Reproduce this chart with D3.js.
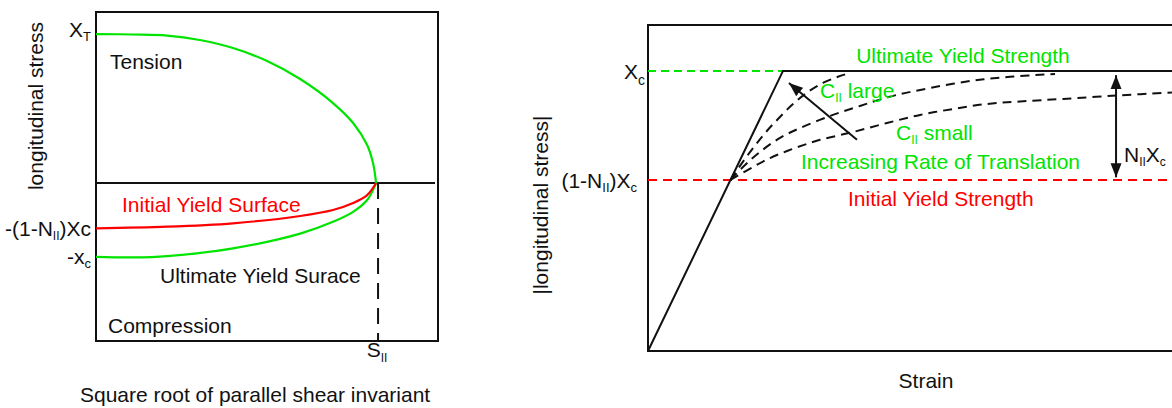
<!DOCTYPE html>
<html><head><meta charset="utf-8">
<script src="https://cdn.jsdelivr.net/npm/d3@7"></script>
<style>
body{margin:0;background:#fff}
svg{display:block}
text{font-family:"Liberation Sans",Arial,Helvetica,sans-serif;font-size:21px;fill:#111}
</style>
</head><body>
<svg id="chart" width="1172" height="408"></svg>
<script>
// ---------- LEFT PANEL DATA (shear invariant vs longitudinal stress) ----------
const leftShearRange = [0, 1.221];
const leftStressRange = [-1.06, 1.148];
const tensionShear  = [0, 0.132, 0.254, 0.371, 0.489, 0.611, 0.729, 0.846, 0.918, 0.968, 0.989, 1.0];
const tensionStress = [1.0, 0.997, 0.990, 0.960, 0.906, 0.819, 0.698, 0.537, 0.403, 0.255, 0.134, 0.0];
const initialShear  = [0, 0.254, 0.489, 0.729, 0.846, 0.918, 0.968, 1.0];
const initialStress = [-0.304, -0.293, -0.270, -0.221, -0.181, -0.134, -0.081, 0.0];
const ultimateShear  = [0, 0.132, 0.254, 0.489, 0.729, 0.846, 0.918, 0.968, 1.0];
const ultimateStress = [-0.495, -0.499, -0.490, -0.438, -0.339, -0.260, -0.193, -0.114, 0.0];
const leftTickValues = [1, -0.304, -0.495];
const leftTickLabels = ["X_{T}", "-(1-N_{II})Xc", "-x_{c}"];
const sII = [1.007];
const sIILabel = "S_{II}";

// ---------- RIGHT PANEL DATA (strain vs |longitudinal stress|) ----------
const strainRange = [0, 3.9];
const stressRange = [0, 1.164];
const elasticStrain = [0, 1];
const elasticStress = [0, 1];
const plateauStrain = [1, 3.9];
const initialYield = [0.611];
const ultimateYield = [1];
const rightTickValues = [1, 0.611];
const rightTickLabels = ["X_{c}", "(1-N_{II})X_{c}"];
const curveAStrain = [0.611, 0.696, 0.785, 0.874, 0.970, 1.074, 1.185, 1.296, 1.407, 1.496];
const curveAStress = [0.611, 0.671, 0.729, 0.782, 0.832, 0.882, 0.925, 0.957, 0.979, 0.993];
const curveBStrain = [0.611, 0.719, 0.830, 0.978, 1.126, 1.348, 1.570, 1.815, 2.089, 2.385, 2.681, 3.015];
const curveBStress = [0.611, 0.664, 0.711, 0.761, 0.796, 0.839, 0.875, 0.911, 0.939, 0.964, 0.979, 0.989];
const curveCStrain = [0.611, 0.778, 0.904, 1.030, 1.156, 1.274, 1.519, 1.770, 2.015, 2.259, 2.511, 2.756, 3.074, 3.496, 3.881];
const curveCStress = [0.611, 0.657, 0.689, 0.714, 0.736, 0.754, 0.782, 0.814, 0.843, 0.864, 0.882, 0.891, 0.900, 0.913, 0.923];
const rateArrowStrain = [1.548, 1.044];
const rateArrowStress = [0.754, 0.957];
const nArrowStrain = [3.467, 3.467];
const nArrowStress = [0.62, 0.985];

const GREEN = "#00e400", RED = "#ff0000", BLACK = "#111";
const svg = d3.select("#chart");

function rich(g, str, subSize, subDy) {
  const t = g.append("text");
  const parts = str.split(/(_\{[^}]*\})/).filter(s => s.length);
  let inSub = false;
  parts.forEach(p => {
    if (p.startsWith("_{")) {
      t.append("tspan").attr("font-size", subSize).attr("dy", subDy).text(p.slice(2, -1));
      inSub = true;
    } else {
      const ts = t.append("tspan").text(p);
      if (inSub) { ts.attr("dy", -subDy); inSub = false; }
    }
  });
  return t;
}

const defs = svg.append("defs");
defs.append("marker").attr("id", "head")
  .attr("markerUnits", "userSpaceOnUse")
  .attr("viewBox", "0 0 14 12").attr("markerWidth", 14).attr("markerHeight", 12)
  .attr("refX", 14).attr("refY", 6).attr("orient", "auto-start-reverse")
  .append("path").attr("d", "M0,0.5 L14,6 L0,11.5 Z").attr("fill", BLACK);

// ================= LEFT PANEL =================
const Lx = d3.scaleLinear().domain(leftShearRange).range([96, 438]);
const Ly = d3.scaleLinear().domain(leftStressRange).range([341, 12]);
const L = svg.append("g");

L.append("rect").attr("x", Lx(leftShearRange[0])).attr("y", Ly(leftStressRange[1]))
  .attr("width", Lx(leftShearRange[1]) - Lx(leftShearRange[0]))
  .attr("height", Ly(leftStressRange[0]) - Ly(leftStressRange[1]))
  .attr("fill", "none").attr("stroke", BLACK).attr("stroke-width", 2);

// zero stress line
L.append("line").attr("x1", Lx(0)).attr("x2", Lx(leftShearRange[1]) - 3)
  .attr("y1", Ly(0)).attr("y2", Ly(0)).attr("stroke", BLACK).attr("stroke-width", 2);

// S_II dashed line
L.append("line").attr("x1", Lx(sII[0])).attr("x2", Lx(sII[0]))
  .attr("y1", Ly(0)).attr("y2", Ly(leftStressRange[0]))
  .attr("stroke", BLACK).attr("stroke-width", 2).attr("stroke-dasharray", "16,9");

const lline = d3.line().x(d => Lx(d[0])).y(d => Ly(d[1])).curve(d3.curveCatmullRom.alpha(0.5));
L.append("path").attr("d", lline(d3.zip(tensionShear, tensionStress)))
  .attr("fill", "none").attr("stroke", GREEN).attr("stroke-width", 2.2);
L.append("path").attr("d", lline(d3.zip(ultimateShear, ultimateStress)))
  .attr("fill", "none").attr("stroke", GREEN).attr("stroke-width", 2.2);
L.append("path").attr("d", lline(d3.zip(initialShear, initialStress)))
  .attr("fill", "none").attr("stroke", RED).attr("stroke-width", 2.2);

// left tick labels
leftTickValues.forEach((v, i) => {
  const t = rich(L, leftTickLabels[i], i === 1 ? 12 : 13, 4);
  t.attr("x", 91).attr("y", Ly(v) + (i === 0 ? 3 : 7.5)).attr("text-anchor", "end");
});
rich(L, sIILabel, 12, 5).attr("x", Lx(sII[0]) - 1).attr("y", 357).attr("text-anchor", "middle");

L.append("text").attr("x", 110).attr("y", 69).text("Tension");
L.append("text").attr("x", 122).attr("y", 212).attr("fill", RED).style("fill", RED).text("Initial Yield Surface");
L.append("text").attr("x", 160).attr("y", 283).text("Ultimate Yield Surace");
L.append("text").attr("x", 108).attr("y", 333).text("Compression");
L.append("text").attr("x", 80).attr("y", 402).text("Square root of parallel shear invariant");
L.append("text").attr("transform", "translate(43,106) rotate(-90)")
  .attr("text-anchor", "middle").text("longitudinal stress");

// ================= RIGHT PANEL =================
const Rx = d3.scaleLinear().domain(strainRange).range([648, 648 + 3.9 * 135]);
const Ry = d3.scaleLinear().domain(stressRange).range([351, 25]);
const R = svg.append("g");

R.append("rect").attr("x", Rx(strainRange[0])).attr("y", Ry(stressRange[1]))
  .attr("width", Rx(strainRange[1]) - Rx(strainRange[0]))
  .attr("height", Ry(stressRange[0]) - Ry(stressRange[1]))
  .attr("fill", "none").attr("stroke", BLACK).attr("stroke-width", 2);

// initial yield (red dashed)
R.append("line").attr("x1", Rx(strainRange[0])).attr("x2", Rx(strainRange[1]))
  .attr("y1", Ry(initialYield[0])).attr("y2", Ry(initialYield[0]))
  .attr("stroke", RED).attr("stroke-width", 2).attr("stroke-dasharray", "9,6");
// ultimate yield (green dashed up to elastic line)
R.append("line").attr("x1", Rx(strainRange[0])).attr("x2", Rx(elasticStrain[1]))
  .attr("y1", Ry(ultimateYield[0])).attr("y2", Ry(ultimateYield[0]))
  .attr("stroke", GREEN).attr("stroke-width", 2).attr("stroke-dasharray", "8,5");

const rline = d3.line().x(d => Rx(d[0])).y(d => Ry(d[1]));
const rcurve = d3.line().x(d => Rx(d[0])).y(d => Ry(d[1])).curve(d3.curveCatmullRom.alpha(0.5));

// elastic + plateau
R.append("path").attr("d", rline(d3.zip(elasticStrain, elasticStress).concat(plateauStrain.map(s => [s, ultimateYield[0]]))))
  .attr("fill", "none").attr("stroke", BLACK).attr("stroke-width", 2).attr("stroke-linejoin", "miter");

[[curveAStrain, curveAStress], [curveBStrain, curveBStress], [curveCStrain, curveCStress]].forEach(([xs, ys]) => {
  R.append("path").attr("d", rcurve(d3.zip(xs, ys)))
    .attr("fill", "none").attr("stroke", BLACK).attr("stroke-width", 2).attr("stroke-dasharray", "9,6");
});

// arrows
R.append("path").attr("d", rline(d3.zip(rateArrowStrain, rateArrowStress)))
  .attr("stroke", BLACK).attr("stroke-width", 2).attr("marker-end", "url(#head)");
R.append("path").attr("d", rline(d3.zip(nArrowStrain, nArrowStress)))
  .attr("stroke", BLACK).attr("stroke-width", 2)
  .attr("marker-end", "url(#head)").attr("marker-start", "url(#head)");

// right tick labels
rightTickValues.forEach((v, i) => {
  const t = rich(R, rightTickLabels[i], i === 0 ? 14 : 13, i === 0 ? 6 : 4);
  t.attr("x", i === 0 ? 645 : 637).attr("y", Ry(v) + 8).attr("text-anchor", "end");
});

R.append("text").attr("x", 963).attr("y", 63).attr("text-anchor", "middle").style("fill", GREEN).text("Ultimate Yield Strength");
rich(R, "C_{II} large", 12, 4).attr("x", 820).attr("y", 98).style("fill", GREEN).selectAll("tspan").style("fill", GREEN);
rich(R, "C_{II} small", 12, 4).attr("x", 896).attr("y", 140).style("fill", GREEN).selectAll("tspan").style("fill", GREEN);
R.append("text").attr("x", 801).attr("y", 169).style("fill", GREEN).text("Increasing Rate of Translation");
R.append("text").attr("x", 848).attr("y", 206).style("fill", RED).text("Initial Yield Strength");
rich(R, "N_{II}X_{c}", 12, 4).attr("x", 1124).attr("y", 162);
R.append("text").attr("x", 926).attr("y", 388).attr("text-anchor", "middle").text("Strain");
R.append("text").attr("transform", "translate(548,205) rotate(-90)")
  .attr("text-anchor", "middle").text("|longitudinal stress|");
</script>
</body></html>
